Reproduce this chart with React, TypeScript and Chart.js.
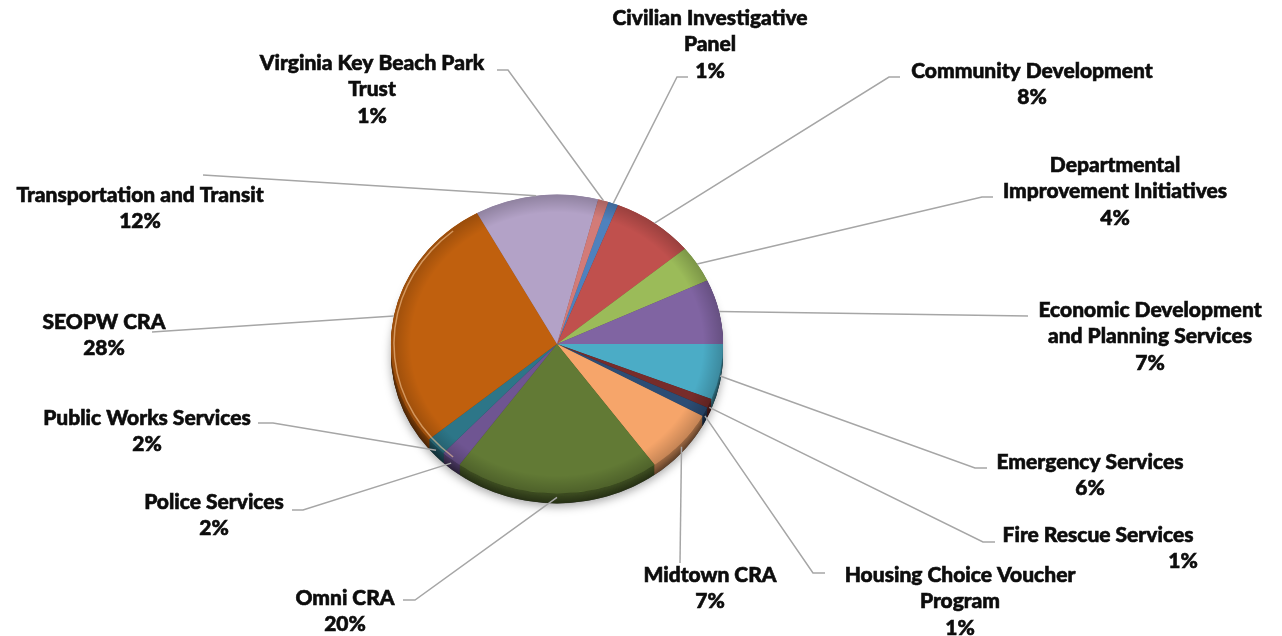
import React, { useEffect, useRef } from "react";
import { Chart, registerables } from "chart.js";

Chart.register(...registerables);

// ---------- data ----------
const categories = [
  "Civilian Investigative Panel",
  "Community Development",
  "Departmental Improvement Initiatives",
  "Economic Development and Planning Services",
  "Emergency Services",
  "Fire Rescue Services",
  "Housing Choice Voucher Program",
  "Midtown CRA",
  "Omni CRA",
  "Police Services",
  "Public Works Services",
  "SEOPW CRA",
  "Transportation and Transit",
  "Virginia Key Beach Park Trust",
];

const shares = [1, 8, 4, 7, 6, 1, 1, 7, 20, 2, 2, 28, 12, 1];

const labelLines = [
  ["Civilian Investigative", "Panel"],
  ["Community Development"],
  ["Departmental", "Improvement Initiatives"],
  ["Economic Development", "and Planning Services"],
  ["Emergency Services"],
  ["Fire Rescue Services"],
  ["Housing Choice Voucher", "Program"],
  ["Midtown CRA"],
  ["Omni CRA"],
  ["Police Services"],
  ["Public Works Services"],
  ["SEOPW CRA"],
  ["Transportation and Transit"],
  ["Virginia Key Beach Park", "Trust"],
];

// ---------- style / layout ----------
const sliceColors = [
  "#4F81BD",
  "#C0504D",
  "#9BBB59",
  "#8064A2",
  "#4BACC6",
  "#772C2A",
  "#2C4D75",
  "#F6A56A",
  "#627A35",
  "#6F5592",
  "#2D7688",
  "#C0600E",
  "#B3A2C7",
  "#D27B78",
];

// label block: centre x, first line y, elbow (ex,ey), hook end hx, optional pct x
const labelLayout: any[] = [
  { cx: 710, y: 18, ex: 677, ey: 77, hx: 688 },
  { cx: 1032, y: 71, ex: 889, ey: 77, hx: 900 },
  { cx: 1115, y: 165, ex: 982, ey: 197, hx: 993 },
  { cx: 1150, y: 310, ex: 1028, ey: 316, hx: null },
  { cx: 1090, y: 462, ex: 975, ey: 468, hx: 987 },
  { cx: 1098, y: 535, ex: 983, ey: 542, hx: 995, pctX: 1183 },
  { cx: 960, y: 575, ex: 813, ey: 573, hx: 825 },
  { cx: 710, y: 575, ex: 680, ey: 563, hx: null },
  { cx: 345, y: 598, ex: 415, ey: 600, hx: 403 },
  { cx: 214, y: 502, ex: 303, ey: 510, hx: 292 },
  { cx: 147, y: 418, ex: 273, ey: 423, hx: 258 },
  { cx: 104, y: 322, ex: 152, ey: 332, hx: null },
  { cx: 140, y: 195, ex: 203, ey: 175, hx: null },
  { cx: 372, y: 63, ex: 508, ey: 70, hx: 497 },
];

const SQUASH = 0.9;
const DEPTH = 10;
const LINE_H = 26.5;
const FONT_FAMILY = "Lato, 'Noto Sans', sans-serif";

function shade(hex: string, f: number) {
  const n = parseInt(hex.slice(1), 16);
  const r = Math.round(((n >> 16) & 255) * f);
  const g = Math.round(((n >> 8) & 255) * f);
  const b = Math.round((n & 255) * f);
  return `rgb(${r},${g},${b})`;
}

const pie3d = {
  id: "pie3d",
  beforeDatasetsDraw(chart: any) {
    const ctx = chart.ctx;
    const arcs = chart.getDatasetMeta(0).data;
    if (!arcs.length) return;
    const { x, y } = arcs[0];
    const r = arcs[0].outerRadius;
    ctx.save();
    ctx.translate(x, y);
    ctx.scale(1, SQUASH);
    ctx.translate(-x, -y);
    const d = DEPTH / SQUASH;
    // soft drop shadow
    ctx.save();
    ctx.shadowColor = "rgba(0,0,0,0.35)";
    ctx.shadowBlur = 10;
    ctx.shadowOffsetY = 3;
    ctx.fillStyle = "#444";
    ctx.beginPath();
    ctx.arc(x, y + d, r, 0, Math.PI * 2);
    ctx.fill();
    ctx.restore();
    // side walls
    for (let k = d; k > 0; k -= 1) {
      arcs.forEach((a: any, i: number) => {
        ctx.beginPath();
        ctx.moveTo(x, y + k);
        ctx.arc(x, y + k, r, a.startAngle, a.endAngle);
        ctx.closePath();
        ctx.fillStyle = shade(sliceColors[i], 0.4 + 0.25 * (1 - k / d));
        ctx.fill();
      });
    }
  },
  afterDatasetsDraw(chart: any) {
    const ctx = chart.ctx;
    const arcs = chart.getDatasetMeta(0).data;
    if (!arcs.length) return;
    const { x, y } = arcs[0];
    const r = arcs[0].outerRadius;
    // bevel shading on the top face
    const g = ctx.createRadialGradient(x, y, r * 0.88, x, y, r);
    g.addColorStop(0, "rgba(0,0,0,0)");
    g.addColorStop(1, "rgba(0,0,0,0.2)");
    ctx.fillStyle = g;
    ctx.beginPath();
    ctx.arc(x, y, r, 0, Math.PI * 2);
    ctx.fill();
    // light rim highlight on the upper-left edge
    ctx.strokeStyle = "rgba(255,210,160,0.55)";
    ctx.lineWidth = 1.5;
    ctx.beginPath();
    ctx.arc(x, y, r - 3, Math.PI * 0.72, Math.PI * 1.28);
    ctx.stroke();
    ctx.restore();
  },
  afterDraw(chart: any) {
    const ctx = chart.ctx;
    const arcs = chart.getDatasetMeta(0).data;
    if (!arcs.length) return;
    const { x, y } = arcs[0];
    const r = arcs[0].outerRadius;
    const total = shares.reduce((s, v) => s + v, 0);

    ctx.save();
    ctx.font = `900 100px ${FONT_FAMILY}`;
    const w = ctx.measureText("Transportation and Transit").width;
    const size = Math.max(15, Math.min(21, (100 * 258) / w));
    ctx.font = `900 ${size.toFixed(1)}px ${FONT_FAMILY}`;

    arcs.forEach((a: any, i: number) => {
      const L = labelLayout[i];
      const mid = (a.startAngle + a.endAngle) / 2;
      const px = x + r * Math.cos(mid);
      const py = y + r * Math.sin(mid) * SQUASH + (Math.sin(mid) > 0 ? 4 : 0);
      ctx.strokeStyle = "#A6A6A6";
      ctx.lineWidth = 1.5;
      ctx.beginPath();
      ctx.moveTo(px, py);
      ctx.lineTo(L.ex, L.ey);
      if (L.hx !== null && L.hx !== undefined) ctx.lineTo(L.hx, L.ey);
      ctx.stroke();

      ctx.fillStyle = "#0d0d0d";
      ctx.strokeStyle = "#0d0d0d";
      ctx.lineWidth = 0.6;
      ctx.textAlign = "center";
      ctx.textBaseline = "middle";
      const lines = labelLines[i];
      lines.forEach((t: string, k: number) => {
        ctx.fillText(t, L.cx, L.y + k * LINE_H);
        ctx.strokeText(t, L.cx, L.y + k * LINE_H);
      });
      const pct = Math.round((shares[i] / total) * 100) + "%";
      const pxl = L.pctX ?? L.cx;
      const pyl = L.y + lines.length * LINE_H;
      ctx.fillText(pct, pxl, pyl);
      ctx.strokeText(pct, pxl, pyl);
    });
    ctx.restore();
  },
};

export default function App() {
  const ref = useRef<HTMLCanvasElement | null>(null);
  useEffect(() => {
    if (!ref.current) return;
    const chart = new Chart(ref.current, {
      type: "pie",
      data: {
        labels: categories,
        datasets: [
          {
            data: shares,
            backgroundColor: sliceColors,
            borderWidth: 0,
          },
        ],
      },
      options: {
        responsive: false,
        animation: false,
        rotation: 18,
        layout: { padding: { left: 391, right: 559, top: 178, bottom: 126 } },
        plugins: {
          legend: { display: false },
          tooltip: { enabled: false },
        },
      },
      plugins: [pie3d],
    });
    return () => chart.destroy();
  }, []);
  return (
    <div style={{ position: "fixed", left: 0, top: 0, width: 1282, height: 636, background: "#fff" }}>
      <canvas ref={ref} width={1282} height={636} style={{ display: "block", width: 1282, height: 636 }} />
    </div>
  );
}
